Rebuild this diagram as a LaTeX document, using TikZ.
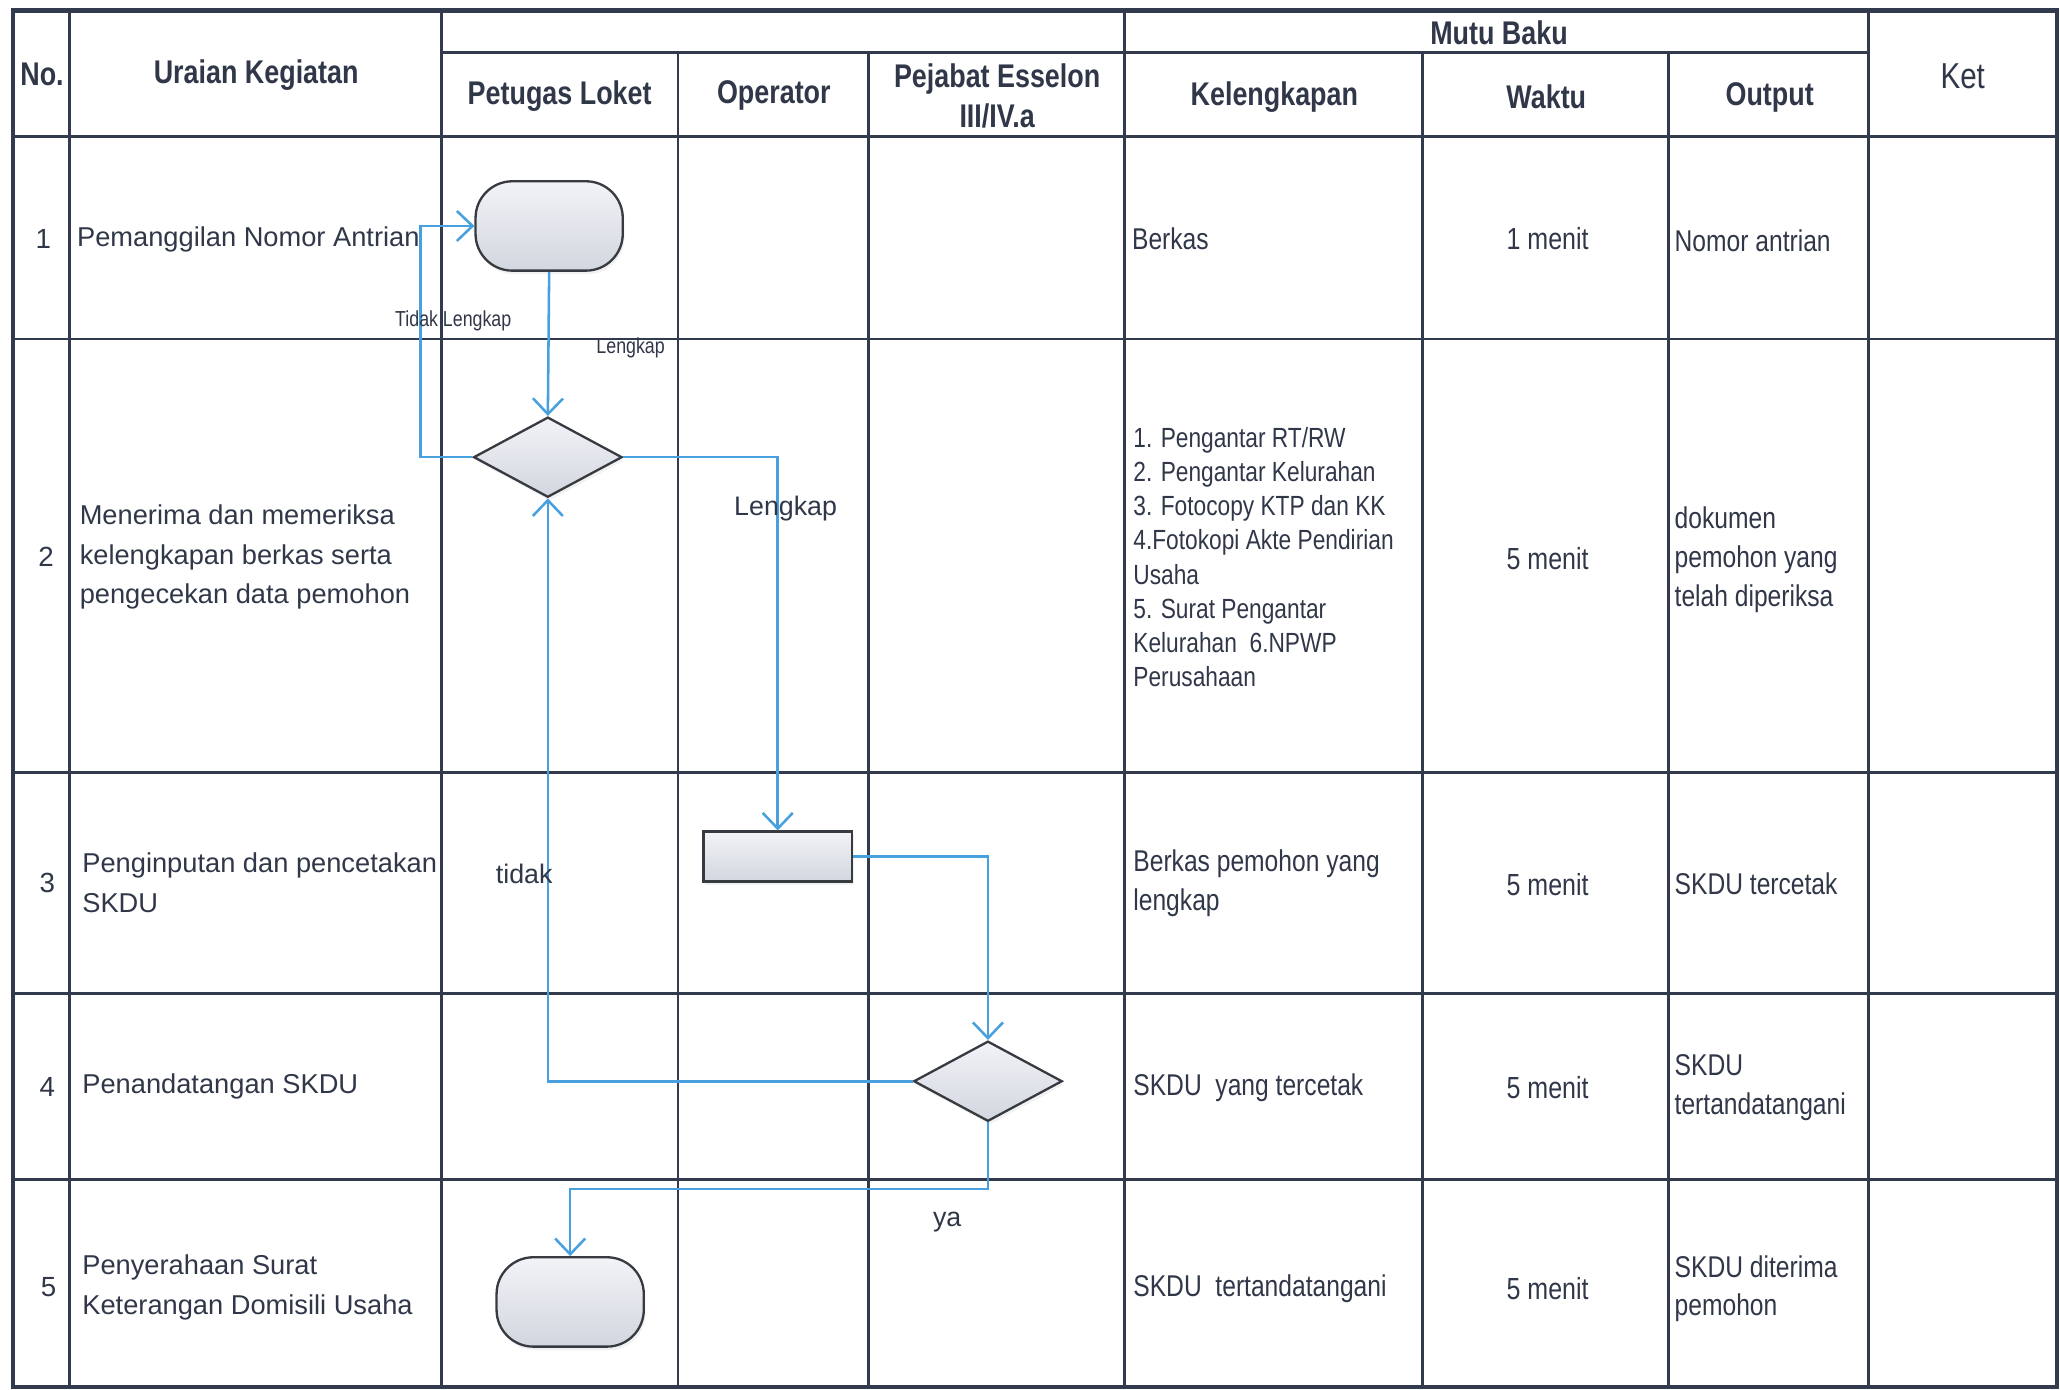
\documentclass[tikz,border=0pt]{standalone}
\usepackage{fontspec}
\setmainfont{Liberation Sans}
\newfontfamily\narrowsans[FakeStretch=0.82]{Liberation Sans}
\usepackage{tikz}
\usetikzlibrary{shapes.geometric, arrows.meta, shadows}
\definecolor{gridline}{RGB}{50,58,78}
\definecolor{inkc}{RGB}{48,55,72}
\definecolor{flowblue}{RGB}{72,160,222}
\definecolor{shapetop}{RGB}{242,243,247}
\definecolor{shapebot}{RGB}{210,214,222}
\definecolor{shapeline}{RGB}{55,58,64}
\tikzset{
  shapebase/.style={draw=shapeline, top color=shapetop, bottom color=shapebot,
    line width=0.5pt, inner sep=0pt,
    drop shadow={opacity=0.1, shadow xshift=0.4pt, shadow yshift=-0.8pt}},
  terminal/.style={shapebase, rectangle, rounded corners=0.28cm,
    minimum width=1.12cm, minimum height=0.68cm},
  decision/.style={shapebase, diamond, minimum width=1.13cm, minimum height=0.61cm},
  process/.style={shapebase, rectangle, minimum width=1.13cm, minimum height=0.38cm},
  flow/.style={-{Straight Barb[length=3.4pt, width=6.5pt]}, draw=flowblue, line width=0.55pt},
  grid/.style={draw=gridline, line width=0.6pt},
  hdr/.style={font={\narrowsans\bfseries\fontsize{7.1}{8.6}\selectfont},
    text=inkc, align=center, inner sep=0pt},
  cell/.style={font={\fontsize{5.9}{8.6}\selectfont}, text=inkc,
    align=left, anchor=west, inner sep=0pt},
  ncell/.style={font={\narrowsans\fontsize{6.5}{8.4}\selectfont}, text=inkc,
    align=left, anchor=west, inner sep=0pt},
  lst/.style={ncell, font={\narrowsans\fontsize{6}{7.4}\selectfont}},
  waktu/.style={font={\narrowsans\fontsize{6.6}{8}\selectfont}, text=inkc, inner sep=0pt},
  num/.style={font={\fontsize{6}{7}\selectfont}, text=inkc, inner sep=0pt},
  tiny lbl/.style={font={\narrowsans\fontsize{4.7}{5.5}\selectfont}, text=inkc, inner sep=0pt},
  lbl/.style={font={\fontsize{5.8}{7}\selectfont}, text=inkc, inner sep=0pt}
}

\begin{document}
\begin{tikzpicture}[x=0.01cm, y=-0.01cm]
  \useasboundingbox (0,0) rectangle (1568,1058);

  % Table grid
  \draw[grid, line width=0.9pt] (10,8) rectangle (1566,1056);
  \draw[grid] (336,40) -- (1422,40);
  \draw[grid] (10,104) -- (1566,104);
  \foreach \y in {258,588,756,898} \draw[grid] (10,\y) -- (1566,\y);
  \foreach \x in {53,336,856,1422} \draw[grid] (\x,8) -- (\x,1056);
  \foreach \x in {516,661,1083,1270} \draw[grid] (\x,40) -- (\x,1056);

  % Header
  \node[hdr] (hno) at (32,57) {No.};
  \node[hdr] (hurai) at (195,57) {Uraian Kegiatan};
  \node[hdr] (hloket) at (426,73) {Petugas Loket};
  \node[hdr] (hoper) at (589,73) {Operator};
  \node[hdr] (hpejabat) at (759,73) {Pejabat Esselon\\III/IV.a};
  \node[hdr] (hmutu) at (1141,25) {Mutu Baku};
  \node[hdr] (hlengkap) at (970,74) {Kelengkapan};
  \node[hdr] (hwaktu) at (1177,74) {Waktu};
  \node[hdr] (houtput) at (1347,74) {Output};
  \node[hdr, font={\narrowsans\fontsize{7.8}{9}\selectfont}] (hket) at (1494,58) {Ket};

  % Row numbers
  \node[num] (n1) at (33,182) {1};
  \node[num] (n2) at (35,424) {2};
  \node[num] (n3) at (36,672) {3};
  \node[num] (n4) at (36,827) {4};
  \node[num] (n5) at (37,980) {5};

  % Uraian Kegiatan
  \node[cell] (u1) at (58,182) {Pemanggilan Nomor Antrian};
  \node[cell] (u2) at (60,424) {Menerima dan memeriksa\\kelengkapan berkas serta\\pengecekan data pemohon};
  \node[cell] (u3) at (62,672) {Penginputan dan pencetakan\\SKDU};
  \node[cell] (u4) at (62,827) {Penandatangan SKDU};
  \node[cell] (u5) at (62,980) {Penyerahaan Surat\\Keterangan Domisili Usaha};

  % Kelengkapan
  \node[ncell] (k1) at (861,182) {Berkas};
  \node[lst] (k2) at (862,424) {1. Pengantar RT/RW\\2. Pengantar Kelurahan\\3. Fotocopy KTP dan KK\\4.Fotokopi Akte Pendirian\\Usaha\\5. Surat Pengantar\\Kelurahan\ \ 6.NPWP\\Perusahaan};
  \node[ncell] (k3) at (862,672) {Berkas pemohon yang\\lengkap};
  \node[ncell] (k4) at (862,828) {SKDU\ \ yang tercetak};
  \node[ncell] (k5) at (862,981) {SKDU\ \ tertandatangani};

  % Waktu
  \node[waktu] (w1) at (1178,182) {1 menit};
  \node[waktu] (w2) at (1178,425) {5 menit};
  \node[waktu] (w3) at (1178,673) {5 menit};
  \node[waktu] (w4) at (1178,828) {5 menit};
  \node[waktu] (w5) at (1178,981) {5 menit};

  % Output
  \node[ncell] (o1) at (1274,183) {Nomor antrian};
  \node[ncell] (o2) at (1274,426) {dokumen\\pemohon yang\\telah diperiksa};
  \node[ncell] (o3) at (1274,673) {SKDU tercetak};
  \node[ncell] (o4) at (1274,828) {SKDU\\tertandatangani};
  \node[ncell] (o5) at (1274,981) {SKDU diterima\\pemohon};

  % Flow shapes
  \node[terminal] (start) at (418,172) {};
  \node[decision] (cek) at (417,348) {};
  \node[process] (input) at (592,652) {};
  \node[decision] (ttd) at (752,823) {};
  \node[terminal] (serah) at (434,991) {};

  % Connectors
  \coordinate (tlbend) at (320,348);
  \coordinate (yabend) at (752,905);
  \draw[flow] (start.south) -- (cek.north);
  \draw[flow] (cek.west) -- (tlbend) |- (start.west);
  \draw[flow] (cek.east) -| (input.north);
  \draw[flow] (input.east) -| (ttd.north);
  \draw[flow] (ttd.west) -| (cek.south);
  \draw[flow] (ttd.south) -- (yabend) -| (serah.north);

  % Connector labels
  \node[tiny lbl] (ltidak) at (345,244) {Tidak Lengkap};
  \node[tiny lbl] (llengkap) at (480,265) {Lengkap};
  \node[lbl] (llengkap2) at (598,387) {Lengkap};
  \node[lbl] (ltidak2) at (399,665) {tidak};
  \node[lbl] (lya) at (721,930) {ya};
\end{tikzpicture}
\end{document}
